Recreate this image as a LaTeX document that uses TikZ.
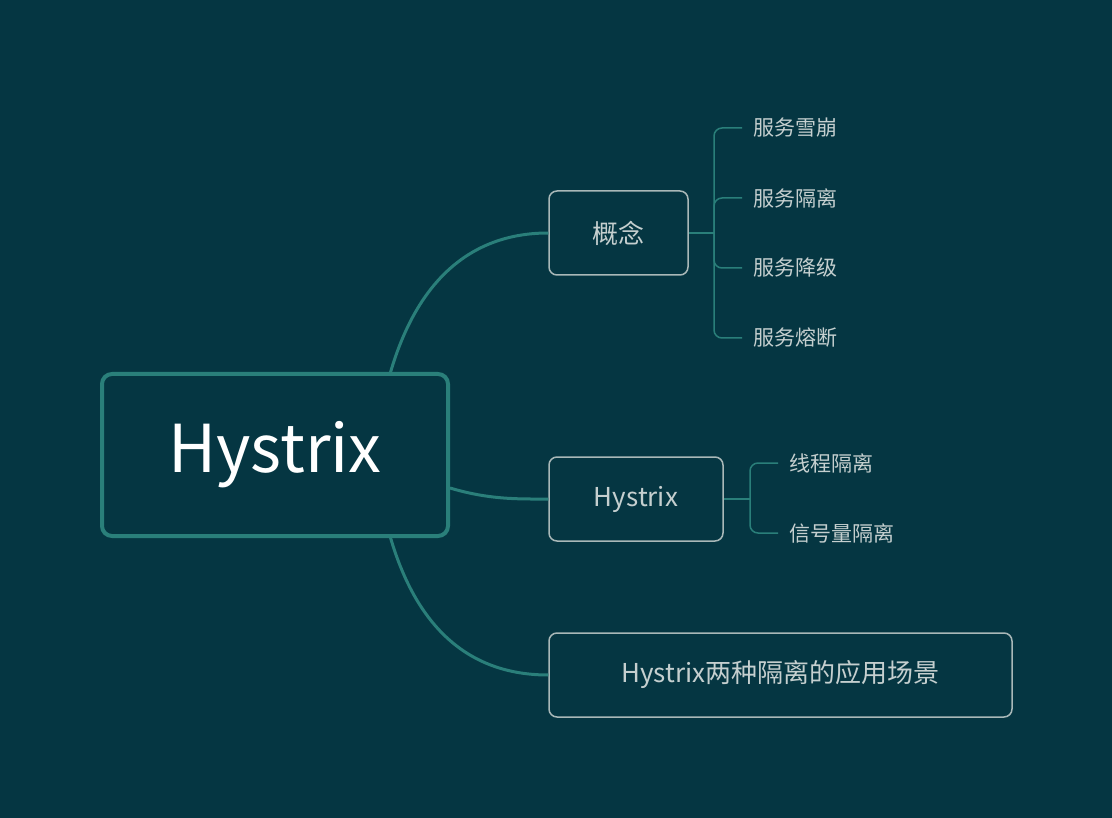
\documentclass[tikz,border=0pt]{standalone}
\usepackage{fontspec}
\setmainfont{Noto Sans CJK SC}
\definecolor{bg}{HTML}{053642}
\definecolor{teal}{HTML}{2A7F7A}
\definecolor{bord}{HTML}{A9B8B8}
\definecolor{txt}{HTML}{C5CFCF}
\begin{document}
\begin{tikzpicture}[x=1pt,y=-1pt,
  box/.style={draw=bord,line width=1.5pt,rounded corners=8pt,text=txt,inner sep=0pt,font=\fontsize{26}{30}\selectfont},
  leaf/.style={text=txt,anchor=west,inner sep=0pt,font=\fontsize{21}{25}\selectfont},
  conn/.style={draw=teal,line width=3pt},
  br/.style={draw=teal,line width=1.5pt,rounded corners=8pt}]
\fill[bg] (0,0) rectangle (1112,818);
\useasboundingbox (0,0) rectangle (1112,818);
\node[draw=teal,line width=4pt,rounded corners=10pt,minimum width=346pt,minimum height=162pt,text=white,font=\fontsize{66}{70}\selectfont] (root) at (275,455) {Hystrix};
\node[box,minimum width=139pt,minimum height=84pt] (gn) at (618.5,233) {概念};
\node[box,minimum width=174pt,minimum height=84pt] (hy) at (636,499) {Hystrix};
\node[box,minimum width=463pt,minimum height=84pt] (yy) at (780.5,675) {Hystrix两种隔离的应用场景};
\coordinate (r1) at (390,374);
\coordinate (r3) at (390,536);
\draw[conn] (r1) .. controls (420,270) and (480,233) .. (gn.west);
\draw[conn] (root.east|-0,488) .. controls (490,500) and (520,499) .. (hy.west);
\draw[conn] (r3) .. controls (420,640) and (480,675) .. (yy.west);
\node[leaf] (a1) at (753,128) {服务雪崩};
\node[leaf] (a2) at (753,198) {服务隔离};
\node[leaf] (a3) at (753,268) {服务降级};
\node[leaf] (a4) at (753,338) {服务熔断};
\node[leaf] (b1) at (789,463) {线程隔离};
\node[leaf] (b2) at (789,533) {信号量隔离};
\draw[br] (gn.east) -- (714,233);
\draw[br] (742,128) -- (714,128) -- (714,338) -- (742,338);
\draw[br] (742,198) -- (714,198) -- (714,268) -- (742,268);
\draw[br] (hy.east) -- (750,499);
\draw[br] (778,463) -- (750,463) -- (750,533) -- (778,533);
\end{tikzpicture}
\end{document}
